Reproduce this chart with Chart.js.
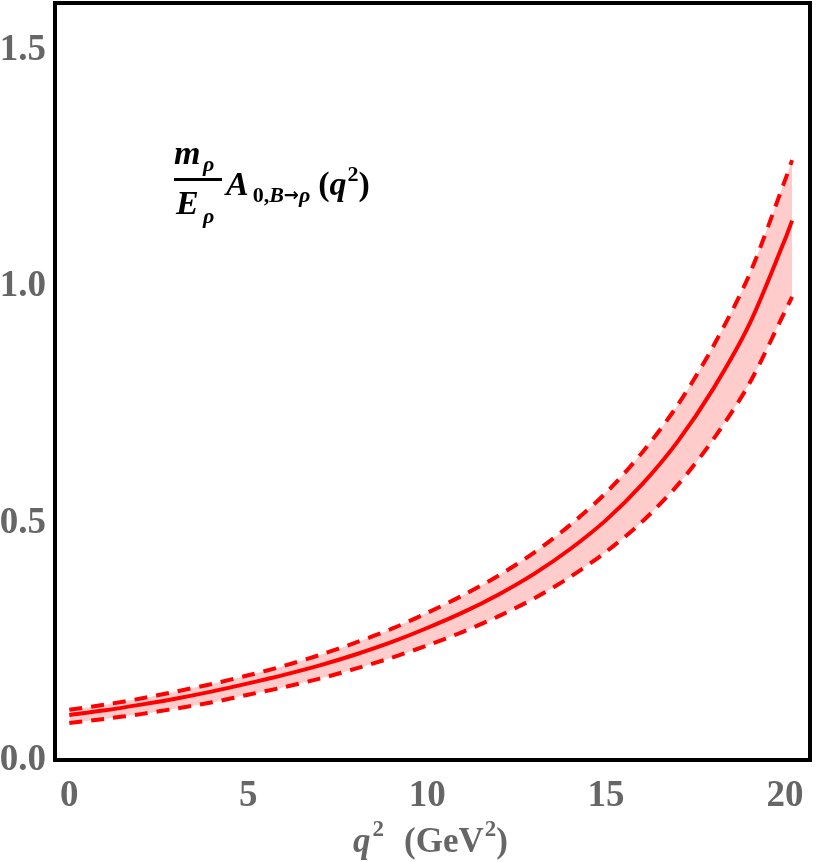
<!DOCTYPE html>
<html>
<head>
<meta charset="utf-8">
<script src="https://cdn.jsdelivr.net/npm/chart.js@4"></script>
<style>
  body { margin: 0; background: #fff; }
  #wrap { width: 821px; height: 862px; }
</style>
</head>
<body>
<div id="wrap"><canvas id="myChart" width="821" height="862"></canvas></div>
<script>
// q^2 values (GeV^2) and the form factor
const qValues = [0, 1, 2, 3, 4, 5, 6, 7, 8, 9, 10, 11, 12, 13, 14, 15, 16, 17, 18, 19, 20, 20.2];
const central = [0.095, 0.105, 0.117, 0.130, 0.145, 0.162, 0.180, 0.200, 0.223, 0.249, 0.279, 0.312, 0.350, 0.394, 0.446, 0.507, 0.582, 0.673, 0.785, 0.920, 1.100, 1.140];
const upper   = [0.106, 0.117, 0.130, 0.145, 0.161, 0.179, 0.199, 0.222, 0.248, 0.277, 0.311, 0.348, 0.390, 0.439, 0.497, 0.565, 0.649, 0.750, 0.875, 1.025, 1.225, 1.268];
const lower   = [0.078, 0.087, 0.097, 0.109, 0.122, 0.138, 0.154, 0.172, 0.193, 0.216, 0.242, 0.271, 0.304, 0.342, 0.387, 0.440, 0.503, 0.581, 0.678, 0.795, 0.948, 0.979];
const xTicks = [0, 5, 10, 15, 20];
const yTicks = [0, 0.5, 1.0, 1.5];

const ctx = document.getElementById('myChart');
const red = '#ff0000';
const grey = '#666666';
const serif = '"Liberation Serif", "Times New Roman", serif';

function pts(ys) {
    return qValues.map((q, i) => ({ x: q, y: ys[i] }));
}

// frame, x title and the formula label
const extras = {
    id: 'extras',
    afterDraw(chart) {
        const c = chart.ctx;
        const a = chart.chartArea;
        c.save();
        c.strokeStyle = '#000';
        c.lineWidth = 4;
        c.strokeRect(a.left, a.top, a.right - a.left, a.bottom - a.top);

        // x axis title: q^2  (GeV^2)
        c.fillStyle = grey;
        c.textBaseline = 'alphabetic';
        c.textAlign = 'left';
        let x = 353, base = 852;
        c.font = 'italic bold 35px ' + serif;
        c.fillText('q', x, base); x += c.measureText('q').width + 2;
        c.font = 'bold 23px ' + serif;
        c.fillText('2', x, base - 16); x += c.measureText('2').width + 20;
        c.font = 'bold 35px ' + serif;
        c.fillText('(GeV', x, base); x += c.measureText('(GeV').width + 1;
        c.font = 'bold 23px ' + serif;
        c.fillText('2', x, base - 16); x += c.measureText('2').width;
        c.font = 'bold 35px ' + serif;
        c.fillText(')', x, base);

        // formula: m_rho / E_rho A_{0,B->rho} (q^2)
        c.fillStyle = '#000';
        c.font = 'italic bold 34px ' + serif;
        c.fillText('m', 174, 164);
        c.fillText('E', 176, 214);
        c.font = 'italic bold 22px ' + serif;
        c.fillText('ρ', 203, 171);
        c.fillText('ρ', 203, 223);
        c.fillRect(174, 178, 48, 3);

        x = 226; base = 195;
        c.font = 'italic bold 34px ' + serif;
        c.fillText('A', x, base); x += c.measureText('A').width + 4;
        c.font = 'bold 22px ' + serif;
        c.fillText('0,', x, 202); x += c.measureText('0,').width;
        c.font = 'italic bold 22px ' + serif;
        c.fillText('B', x, 202); x += c.measureText('B').width;
        c.font = 'bold 18px "DejaVu Sans"';
        c.fillText('→', x, 201); x += c.measureText('→').width;
        c.font = 'italic bold 22px ' + serif;
        c.fillText('ρ', x, 202); x += c.measureText('ρ').width + 8;
        c.font = 'bold 34px ' + serif;
        c.fillText('(', x, base); x += c.measureText('(').width;
        c.font = 'italic bold 34px ' + serif;
        c.fillText('q', x, base); x += c.measureText('q').width + 1;
        c.font = 'bold 22px ' + serif;
        c.fillText('2', x, base - 14); x += c.measureText('2').width;
        c.font = 'bold 34px ' + serif;
        c.fillText(')', x, base);
        c.restore();
    }
};

new Chart(ctx, {
    type: 'line',
    data: {
        datasets: [
            {
                label: 'upper',
                data: pts(upper),
                borderColor: red,
                borderWidth: 4,
                borderDash: [13, 9],
                backgroundColor: 'rgba(255, 0, 0, 0.2)',
                fill: '+1',
                pointRadius: 0,
                tension: 0.3
            },
            {
                label: 'lower',
                data: pts(lower),
                borderColor: red,
                borderWidth: 4,
                borderDash: [13, 9],
                fill: false,
                pointRadius: 0,
                tension: 0.3
            },
            {
                label: 'central',
                data: pts(central),
                borderColor: red,
                borderWidth: 4,
                fill: false,
                pointRadius: 0,
                tension: 0.3
            }
        ]
    },
    options: {
        responsive: false,
        animation: false,
        layout: { padding: { top: 3, right: 11, left: 0, bottom: 0 } },
        plugins: {
            legend: { display: false },
            tooltip: { enabled: false }
        },
        scales: {
            x: {
                type: 'linear',
                min: -0.4,
                max: 20.7,
                afterBuildTicks: (s) => { s.ticks = xTicks.map(v => ({ value: v })); },
                afterFit: (s) => {
                    s.height = 102;
                    s.paddingLeft = 0; s.paddingRight = 0;
                },
                grid: { display: false, drawTicks: false },
                border: { display: false },
                ticks: {
                    color: grey,
                    padding: 14,
                    maxRotation: 0,
                    font: { family: serif, size: 37, weight: 'bold' },
                    callback: (v) => String(v)
                }
            },
            y: {
                min: 0,
                max: 1.6,
                afterBuildTicks: (s) => { s.ticks = yTicks.map(v => ({ value: v })); },
                afterFit: (s) => {
                    s.width = 55;
                    s.paddingTop = 0; s.paddingBottom = 0;
                },
                grid: { display: false, drawTicks: false },
                border: { display: false },
                ticks: {
                    color: grey,
                    padding: 9,
                    font: { family: serif, size: 37, weight: 'bold' },
                    callback: (v) => v.toFixed(1)
                }
            }
        }
    },
    plugins: [extras]
});
</script>
</body>
</html>
